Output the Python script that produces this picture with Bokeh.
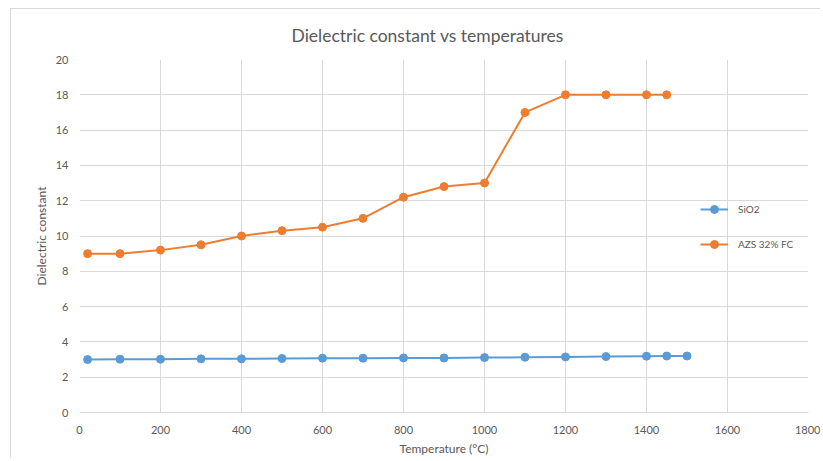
from bokeh.plotting import figure
from bokeh.embed import file_html
from bokeh.resources import INLINE
from bokeh.models import FixedTicker, Legend

temps_sio2 = [20, 100, 200, 300, 400, 500, 600, 700, 800, 900, 1000, 1100, 1200, 1300, 1400, 1450, 1500]
sio2 = [3.0, 3.02, 3.02, 3.04, 3.04, 3.06, 3.08, 3.08, 3.09, 3.09, 3.11, 3.13, 3.15, 3.17, 3.19, 3.2, 3.2]
temps_azs = [20, 100, 200, 300, 400, 500, 600, 700, 800, 900, 1000, 1100, 1200, 1300, 1400, 1450]
azs = [9.0, 9.0, 9.2, 9.5, 10.0, 10.3, 10.5, 11.0, 12.2, 12.8, 13.0, 17.0, 18.0, 18.0, 18.0, 18.0]
x_ticks = [0, 200, 400, 600, 800, 1000, 1200, 1400, 1600, 1800]
y_ticks = [0, 2, 4, 6, 8, 10, 12, 14, 16, 18, 20]

FONT = "Lato"
GRAY = "#595959"
GRID = "#d9d9d9"

p = figure(width=810, height=450, output_backend="svg", toolbar_location=None,
           x_range=(0, 1800), y_range=(0, 20),
           min_border_left=68, min_border_right=13, min_border_top=50, min_border_bottom=47)
p.margin = (8, 0, 0, 10)
p.styles = {"border-top": "1px solid #d9d9d9", "border-left": "1px solid #d9d9d9"}

p.title.text = "Dielectric constant vs temperatures"
p.title.align = "left"
p.title.offset = 212
p.title.text_font = FONT
p.title.text_font_size = "17.5px"
p.title.text_font_style = "normal"
p.title.text_color = GRAY
p.title.standoff = 27

p.outline_line_color = None
p.xaxis.ticker = FixedTicker(ticks=x_ticks)
p.yaxis.ticker = FixedTicker(ticks=y_ticks)
p.xgrid.ticker = FixedTicker(ticks=x_ticks)
p.ygrid.ticker = FixedTicker(ticks=y_ticks)
p.xgrid.grid_line_color = GRID
p.ygrid.grid_line_color = GRID

for ax in (p.xaxis, p.yaxis):
    ax.major_tick_line_color = None
    ax.minor_tick_line_color = None
    ax.major_label_text_font = FONT
    ax.major_label_text_font_size = "11px"
    ax.major_label_text_color = GRAY
    ax.axis_label_text_font = FONT
    ax.axis_label_text_font_size = "12px"
    ax.axis_label_text_font_style = "normal"
    ax.axis_label_text_color = GRAY

p.xaxis.axis_line_color = GRID
p.yaxis.axis_line_color = None
p.xaxis.axis_label = "Temperature (°C)"
p.yaxis.axis_label = "Dielectric constant"
p.xaxis.major_label_standoff = 7
p.yaxis.major_label_standoff = 5
p.xaxis.axis_label_standoff = 4
p.yaxis.axis_label_standoff = 4

blue = "#5B9BD5"
orange = "#ED7D31"

l1 = p.line(temps_sio2, sio2, line_color=blue, line_width=2)
s1 = p.scatter(temps_sio2, sio2, size=8, fill_color=blue, line_color=blue)
l2 = p.line(temps_azs, azs, line_color=orange, line_width=2)
s2 = p.scatter(temps_azs, azs, size=8, fill_color=orange, line_color=orange)

legend = Legend(items=[("SiO2", [l1, s1]), ("AZS 32% FC", [l2, s2])],
                location=(621, 158), padding=0, margin=0, spacing=15,
                glyph_width=28, glyph_height=20, label_standoff=10,
                background_fill_alpha=0, border_line_color=None,
                label_text_font=FONT, label_text_font_size="10px", label_text_color=GRAY)
p.add_layout(legend)

open("out.html", "w").write(file_html(p, INLINE))
